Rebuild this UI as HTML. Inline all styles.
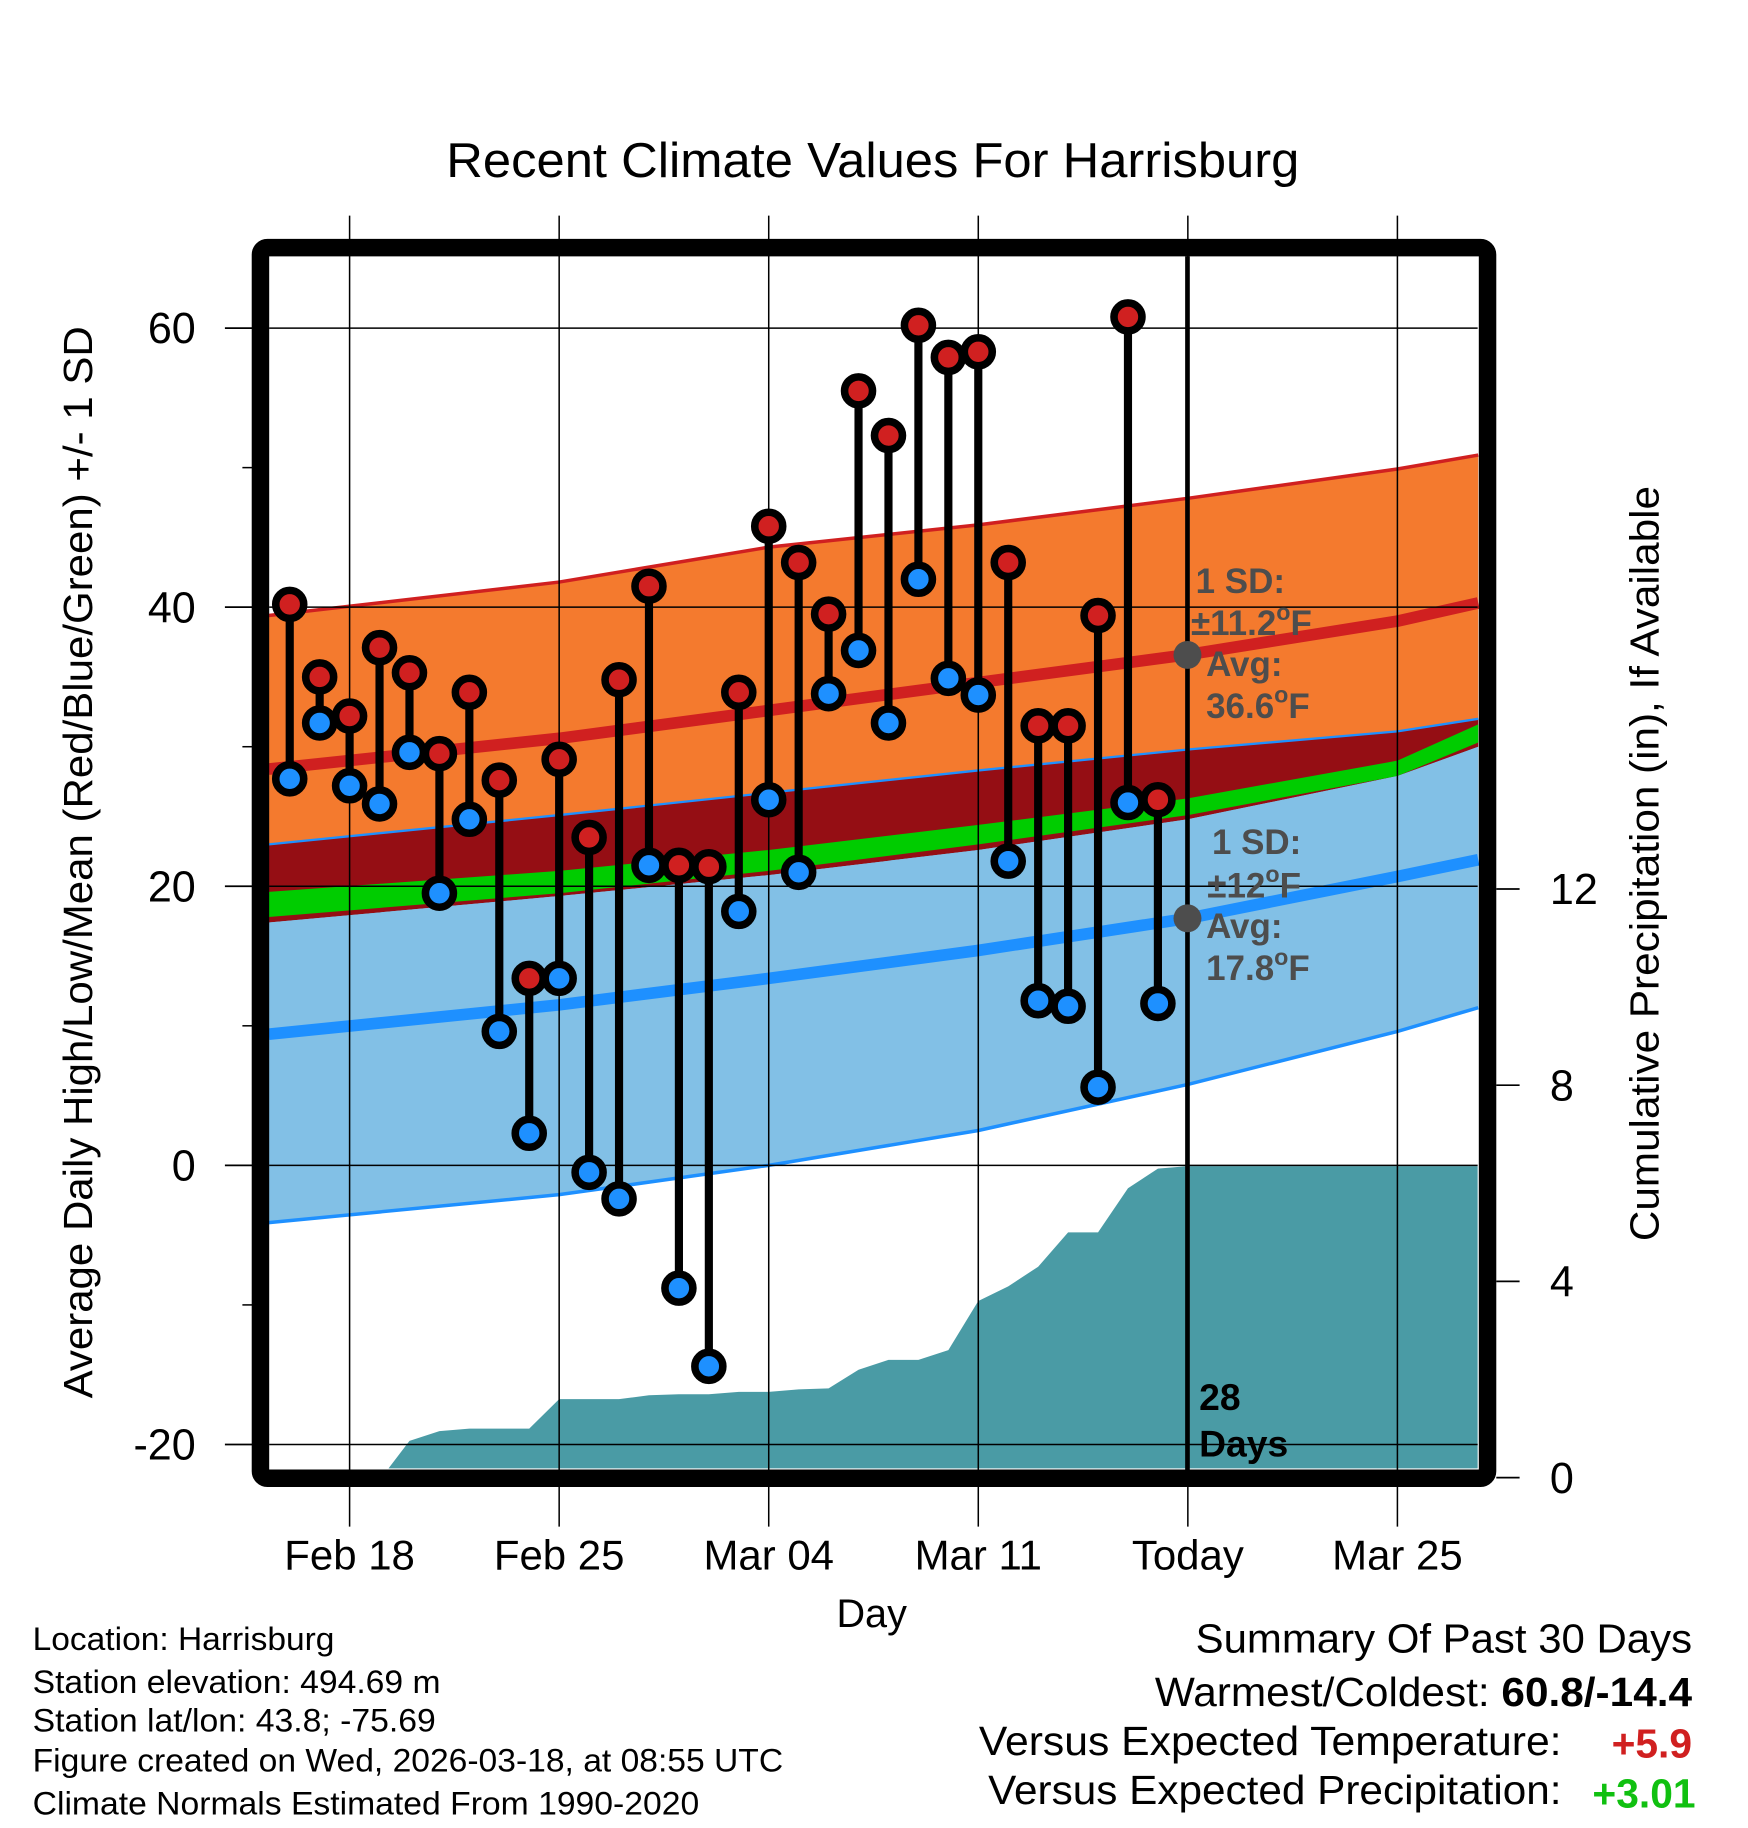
<!DOCTYPE html>
<html><head><meta charset="utf-8">
<style>
html,body{margin:0;padding:0;background:#fff;}
svg{display:block;font-family:"Liberation Sans",Arial,sans-serif;}
</style></head>
<body>
<svg id="chart" width="1748" height="1828" viewBox="0 0 1500 1568.6" xmlns="http://www.w3.org/2000/svg">
<text x="749" y="152" font-size="42" text-anchor="middle" textLength="732" lengthAdjust="spacingAndGlyphs">Recent Climate Values For Harrisburg</text>
<g id="bands"></g>
<g id="precip"></g>
<g id="grid"></g>
<g id="annot">
<line x1="1019" y1="220" x2="1019" y2="1262" stroke="#000" stroke-width="4"/>
<circle cx="1019" cy="562" r="12" fill="#4d4d4d"/>
<circle cx="1019" cy="788" r="12" fill="#4d4d4d"/>
<g font-size="30" font-weight="bold" fill="#4d4d4d">
<text x="1026" y="509">1 SD:</text>
<text x="1022" y="545">±11.2<tspan font-size="20" dy="-13">o</tspan><tspan dy="13">F</tspan></text>
<text x="1035" y="580">Avg:</text>
<text x="1035" y="616">36.6<tspan font-size="20" dy="-13">o</tspan><tspan dy="13">F</tspan></text>
<text x="1040" y="733">1 SD:</text>
<text x="1036" y="770">±12<tspan font-size="20" dy="-13">o</tspan><tspan dy="13">F</tspan></text>
<text x="1035" y="805">Avg:</text>
<text x="1035" y="841">17.8<tspan font-size="20" dy="-13">o</tspan><tspan dy="13">F</tspan></text>
</g>
<text x="1029" y="1210" font-size="32" font-weight="bold">28</text>
<text x="1029" y="1250" font-size="32" font-weight="bold">Days</text>
</g>
<g id="points"></g>
<rect x="223.5" y="212.5" width="1053" height="1056" rx="6" fill="none" stroke="#000" stroke-width="15"/>
<g id="axes"></g>
<text x="748" y="1396" font-size="34" text-anchor="middle">Day</text>
<text transform="translate(79,740) rotate(-90)" font-size="35" text-anchor="middle" textLength="920" lengthAdjust="spacingAndGlyphs">Average Daily High/Low/Mean (Red/Blue/Green) +/- 1 SD</text>
<text transform="translate(1423,741) rotate(-90)" font-size="35" text-anchor="middle" textLength="648" lengthAdjust="spacingAndGlyphs">Cumulative Precipitation (in), If Available</text>
<g font-size="28">
<text x="28" y="1416" textLength="259" lengthAdjust="spacingAndGlyphs">Location: Harrisburg</text>
<text x="28" y="1453" textLength="350" lengthAdjust="spacingAndGlyphs">Station elevation: 494.69 m</text>
<text x="28" y="1486" textLength="346" lengthAdjust="spacingAndGlyphs">Station lat/lon: 43.8; -75.69</text>
<text x="28" y="1520" textLength="644" lengthAdjust="spacingAndGlyphs">Figure created on Wed, 2026-03-18, at 08:55 UTC</text>
<text x="28" y="1557" textLength="572" lengthAdjust="spacingAndGlyphs">Climate Normals Estimated From 1990-2020</text>
</g>
<g font-size="35">
<text x="1026" y="1418" textLength="426" lengthAdjust="spacingAndGlyphs">Summary Of Past 30 Days</text>
<text x="991" y="1464" textLength="461" lengthAdjust="spacingAndGlyphs">Warmest/Coldest: <tspan font-weight="bold">60.8/-14.4</tspan></text>
<text x="840" y="1506" textLength="500" lengthAdjust="spacingAndGlyphs">Versus Expected Temperature:</text>
<text x="1452" y="1508" font-weight="bold" fill="#d02020" text-anchor="end">+5.9</text>
<text x="848" y="1548" textLength="492" lengthAdjust="spacingAndGlyphs">Versus Expected Precipitation:</text>
<text x="1455" y="1551" font-weight="bold" fill="#10c010" text-anchor="end">+3.01</text>
</g>
</svg>
<script>
// ---- data ----
const days = ["Feb 16","Feb 17","Feb 18","Feb 19","Feb 20","Feb 21","Feb 22","Feb 23","Feb 24","Feb 25","Feb 26","Feb 27","Feb 28","Mar 01","Mar 02","Mar 03","Mar 04","Mar 05","Mar 06","Mar 07","Mar 08","Mar 09","Mar 10","Mar 11","Mar 12","Mar 13","Mar 14","Mar 15","Mar 16","Mar 17"];
const highs = [40.2,35,32.2,37.1,35.3,29.5,33.9,27.6,13.4,29.1,23.5,34.8,41.5,21.5,21.4,33.9,45.8,43.2,39.5,55.5,52.3,60.2,57.9,58.3,43.2,31.5,31.5,39.4,60.8,26.2];
const lows  = [27.7,31.7,27.2,25.9,29.6,19.5,24.8,9.6,2.3,13.4,-0.5,-2.4,21.5,-8.8,-14.4,18.2,26.2,21,33.8,36.9,31.7,42,34.9,33.7,21.8,11.8,11.4,5.6,26,11.6];
const dayOffsets = [-2,-1,0,1,2,3,4,5,6,7,8,9,10,11,12,13,14,15,16,17,18,19,20,21,22,23,24,25,26,27];
const normDays   = [-2.7,7,14,21,28,35,37.7];
const highPlusSD = [39.4,41.8,44.3,45.9,47.8,49.9,50.9];
const highMean   = [28.4,30.6,32.6,34.6,36.6,39.0,40.3];
const highMinusSD= [17.4,19.3,20.8,22.6,24.8,27.9,30.0];
const lowPlusSD  = [23.0,25.1,26.7,28.3,29.8,31.1,32.0];
const meanTop    = [19.6,21.1,22.6,24.4,26.3,29.0,31.6];
const meanBot    = [17.8,19.5,21.1,23.0,25.1,27.9,30.3];
const lowMean    = [9.4,11.5,13.4,15.4,17.7,20.7,21.9];
const lowMinusSD = [-4.1,-2.1,0,2.5,5.8,9.6,11.3];
const precipDays = [1.3,2,3,4,5,6,7,8,9,10,11,12,13,14,15,16,17,18,19,20,21,22,23,24,25,26,27,28];
const precipVals = [0,0.75,0.95,1.0,1.0,1.0,1.6,1.6,1.6,1.68,1.7,1.7,1.75,1.75,1.8,1.82,2.2,2.4,2.4,2.6,3.6,3.9,4.3,5.0,5.0,5.9,6.3,6.35];
const yTicks = [60,40,20,0,-20];
const yMinor = [50,30,10,-10];
const y2Ticks = [0,4,8,12];
const xTickDays = [0,7,14,21,28,35];
const xTickLabels = ["Feb 18","Feb 25","Mar 04","Mar 11","Today","Mar 25"];

const X = d => 300 + d*25.69;
const Y = v => 1000 - v*11.975;
const Y2 = p => 1268 - p*42.1;
const L=231,R=1268,T=220,B=1260;
const NS="http://www.w3.org/2000/svg";
function mk(tag,attrs,parent){const e=document.createElementNS(NS,tag);for(const k in attrs)e.setAttribute(k,attrs[k]);parent.appendChild(e);return e;}

const bands=document.getElementById('bands');
function band(top,bot,fill,name){
  let pts=normDays.map((d,i)=>X(d)+','+Y(top[i]));
  for(let i=normDays.length-1;i>=0;i--)pts.push(X(normDays[i])+','+Y(bot[i]));
  const p=mk('polygon',{points:pts.join(' '),fill:fill},bands);
  
  
}
function line(vals,color,w,name){
  const p=mk('polyline',{points:normDays.map((d,i)=>X(d)+','+Y(vals[i])).join(' '),fill:'none',stroke:color,'stroke-width':w},bands);
  
  
}
band(lowPlusSD,lowMinusSD,'#82c0e6','low-sd-band');
band(highPlusSD,lowPlusSD,'#f47a2e','high-sd-band');
band(lowPlusSD,highMinusSD,'#950e14','overlap-band');
band(meanTop,meanBot,'#00cc00','mean-band');
band(highMinusSD,lowMinusSD,'#82c0e6','low-band-lower');
line(highPlusSD,'#d02020',3,'high-plus-sd-line');
line(highMean,'#d02020',10,'high-mean-line');
line(lowPlusSD,'#1e90ff',2,'low-plus-sd-line');
line(lowMean,'#1e90ff',10,'low-mean-line');
line(lowMinusSD,'#1e90ff',3,'low-minus-sd-line');

const pr=document.getElementById('precip');
let pp=[X(precipDays[0])+','+B];
precipDays.forEach((d,i)=>pp.push(X(d)+','+Math.min(B,Y2(precipVals[i]))));
pp.push(R+','+Y2(precipVals[precipVals.length-1]));
pp.push(R+','+B);
const pa=mk('polygon',{points:pp.join(' '),fill:'#4a9ba5'},pr);



const g=document.getElementById('grid');
yTicks.forEach(v=>{const l=mk('line',{x1:L,x2:R,y1:Y(v),y2:Y(v),stroke:'#000','stroke-width':1.3},g);
  
  });
xTickDays.forEach(d=>{const l=mk('line',{x1:X(d),x2:X(d),y1:185,y2:1310,stroke:'#000','stroke-width':1.3},g);
  
  });

const pg=document.getElementById('points');
days.forEach((d,i)=>{
  const x=X(dayOffsets[i]);
  const s=mk('line',{x1:x,x2:x,y1:Y(highs[i]),y2:Y(lows[i]),stroke:'#000','stroke-width':7},pg);
  
  
  [[highs[i],'#d02020','high-point'],[lows[i],'#1e90ff','low-point']].forEach(([v,c,n])=>{
    const c1=mk('circle',{cx:x,cy:Y(v),r:12,fill:c,stroke:'#000','stroke-width':6.5},pg);
    
    
  });
});

const ax=document.getElementById('axes');
yTicks.forEach(v=>{
  const l=mk('line',{x1:193,x2:217,y1:Y(v),y2:Y(v),stroke:'#000','stroke-width':1.5},ax);
  
  
  const t=mk('text',{x:168,y:Y(v)+13,'font-size':37,'text-anchor':'end'},ax);t.textContent=v;
  
  
});
yMinor.forEach(v=>{
  const l=mk('line',{x1:208,x2:217,y1:Y(v),y2:Y(v),stroke:'#000','stroke-width':1.3},ax);
  
  
});
y2Ticks.forEach(p=>{
  const l=mk('line',{x1:1284,x2:1304,y1:Y2(p),y2:Y2(p),stroke:'#000','stroke-width':1.5},ax);
  
  
  const t=mk('text',{x:1330,y:Y2(p)+13,'font-size':37},ax);t.textContent=p;
  
  
});
xTickDays.forEach((d,i)=>{
  const t=mk('text',{x:X(d),y:1347,'font-size':36,'text-anchor':'middle'},ax);t.textContent=xTickLabels[i];
  
  
});
</script>
</body></html>
